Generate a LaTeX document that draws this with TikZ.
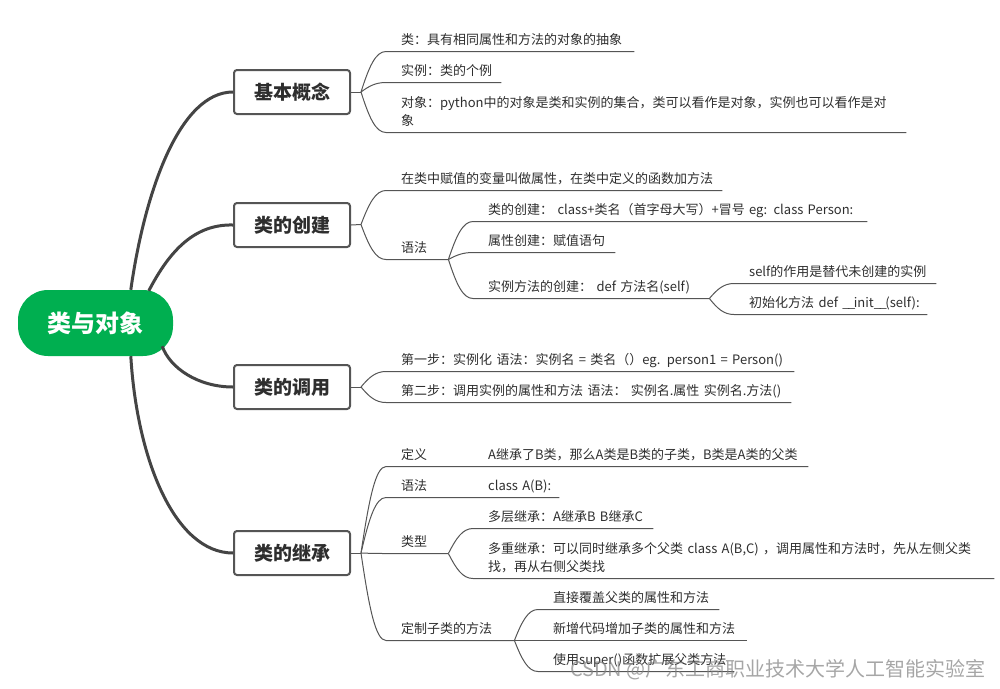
\documentclass[tikz,border=0pt]{standalone}
\usepackage{fontspec}
\setmainfont{Noto Sans CJK SC}
\usetikzlibrary{calc}
\definecolor{inkc}{HTML}{2E2E2E}
\definecolor{linec}{HTML}{555555}
\definecolor{mainc}{HTML}{444444}
\definecolor{boxc}{HTML}{555555}
\definecolor{greenc}{HTML}{00AF50}
\tikzset{
  x=1pt,y=-1pt,
  rootbox/.style={fill=greenc,text=white,rounded corners=30pt,minimum width=155pt,minimum height=66pt,inner sep=0pt,font=\fontsize{24}{28}\selectfont\bfseries},
  topicbox/.style={draw=boxc,line width=2pt,fill=white,rounded corners=3pt,minimum width=116pt,minimum height=44pt,inner sep=0pt,text=inkc,font=\fontsize{19}{23}\selectfont\bfseries},
  mainlink/.style={draw=mainc,line width=3pt},
  thinlink/.style={draw=linec,line width=1pt},
  leafbox/.style={anchor=south west,inner sep=0pt,align=left,text=inkc,font=\fontsize{13}{18.6}\selectfont},
}
% name, start x, line y, end x, text x offset, text
\newcommand{\leaf}[6]{%
  \pgfmathsetmacro{\leafw}{#4-#2}%
  \node[leafbox,text width=\leafw pt] (#1) at (#2,#3) {\hspace*{#5pt}#6\rule[-6.5pt]{0pt}{6.5pt}};%
}
\newcommand{\fan}[2]{%
  \draw[thinlink] let \p1=(#1), \p2=(#2.south west) in
    (\p1) .. controls ({\x1+0.32*(\x2-\x1)},{\y1+0.62*(\y2-\y1)}) and ({\x1+0.58*(\x2-\x1)},{\y2}) .. (\p2) -- (#2.south east);%
}
\newcommand{\lowered}[1]{\raisebox{-0.8pt}{#1}}
\newcommand{\us}{\_\kern-1.5pt}
\begin{document}
\begin{tikzpicture}
\useasboundingbox (0,0) rectangle (1000,688);
\node[rootbox] (root) at (95.5,323) {\lowered{类与对象}};
\node[topicbox] (t1) at (292,92) {\lowered{基本概念}};
\node[topicbox] (t2) at (292,225) {\lowered{类的创建}};
\node[topicbox] (t3) at (292,387) {\lowered{类的调用}};
\node[topicbox] (t4) at (292,553) {\lowered{类的继承}};
\draw[mainlink] ($(root.north west)+(113,0)$) .. controls (145,190) and (180,92) .. (t1.west);
\draw[mainlink] ($(root.north west)+(131,1)$) .. controls (170,250) and (195,224) .. (t2.west);
\draw[mainlink] ($(root.south east)+(-11,-10)$) .. controls (170,368) and (198,387) .. (t3.west);
\draw[mainlink] ($(root.south west)+(113,0)$) .. controls (137,460) and (175,553) .. (t4.west);

\coordinate (h1) at (361,92);
\coordinate (h2) at (361,224.5);
\coordinate (h3) at (361,387);
\coordinate (h4) at (361,553);
\foreach \a/\b in {t1/h1,t2/h2,t3/h3,t4/h4} \draw[thinlink] (\a.east) -- (\b);

\leaf{a1}{386}{51.5}{634}{15}{类：具有相同属性和方法的对象的抽象}
\leaf{a2}{386}{82.5}{501}{15}{实例：类的个例}
\leaf{a3}{386}{132.5}{906}{15}{对象：python中的对象是类和实例的集合，类可以看作是对象，实例也可以看作是对\\\hspace*{15pt}象}
\fan{h1}{a1}\fan{h1}{a2}\fan{h1}{a3}

\leaf{b1}{386}{190.5}{722}{15}{在类中赋值的变量叫做属性，在类中定义的函数加方法}
\leaf{b2}{386}{259.5}{448}{15}{语法}
\fan{h2}{b1}\fan{h2}{b2}
\leaf{c1}{473}{221.5}{867}{15}{类的创建： class+类名（首字母大写）+冒号 eg: class Person:}
\leaf{c2}{473}{252.5}{615}{15}{属性创建：赋值语句}
\leaf{c3}{473}{298.5}{709}{15}{实例方法的创建： def 方法名(self)}
\fan{b2.south east}{c1}\fan{b2.south east}{c2}\fan{b2.south east}{c3}
\leaf{d1}{734}{283.5}{936}{15}{self的作用是替代未创建的实例}
\leaf{d2}{734}{314.5}{927}{15}{初始化方法 def \us\us init\us\us(self):}
\fan{c3.south east}{d1}\fan{c3.south east}{d2}

\leaf{e1}{386}{371.5}{794}{15}{第一步：实例化 语法：实例名 = 类名（）eg. person1 = Person()}
\leaf{e2}{386}{402.5}{791}{15}{第二步：调用实例的属性和方法 语法： 实例名.属性  实例名.方法()}
\fan{h3}{e1}\fan{h3}{e2}

\leaf{f1}{386}{466.5}{808}{15}{定义\hspace*{61pt}A继承了B类，那么A类是B类的子类，B类是A类的父类}
\leaf{f2}{386}{497.5}{559}{15}{语法\hspace*{61pt}class A(B):}
\leaf{f3}{386}{553.5}{448}{15}{类型}
\leaf{f4}{386}{640.5}{514}{15}{定制子类的方法}
\fan{h4}{f1}\fan{h4}{f2}\fan{h4}{f3}\fan{h4}{f4}
\leaf{g1}{473}{528.5}{653}{15}{多层继承：A继承B B继承C}
\leaf{g2}{473}{578.5}{994}{15}{多重继承：可以同时继承多个父类 class A(B,C) ，调用属性和方法时，先从左侧父类\\\hspace*{15pt}找，再从右侧父类找}
\fan{f3.south east}{g1}\fan{f3.south east}{g2}
\leaf{k1}{538}{609.5}{719}{15}{直接覆盖父类的属性和方法}
\leaf{k2}{538}{640.5}{747}{15}{新增代码增加子类的属性和方法}
\leaf{k3}{538}{671.5}{734}{15}{使用super()函数扩展父类方法}
\fan{f4.south east}{k1}\fan{f4.south east}{k2}\fan{f4.south east}{k3}

\node[anchor=base east,inner sep=0pt,text=gray,opacity=.7,font=\fontsize{20}{24}\selectfont] (wm) at (986,676) {CSDN @广东工商职业技术大学人工智能实验室};
\end{tikzpicture}
\end{document}
